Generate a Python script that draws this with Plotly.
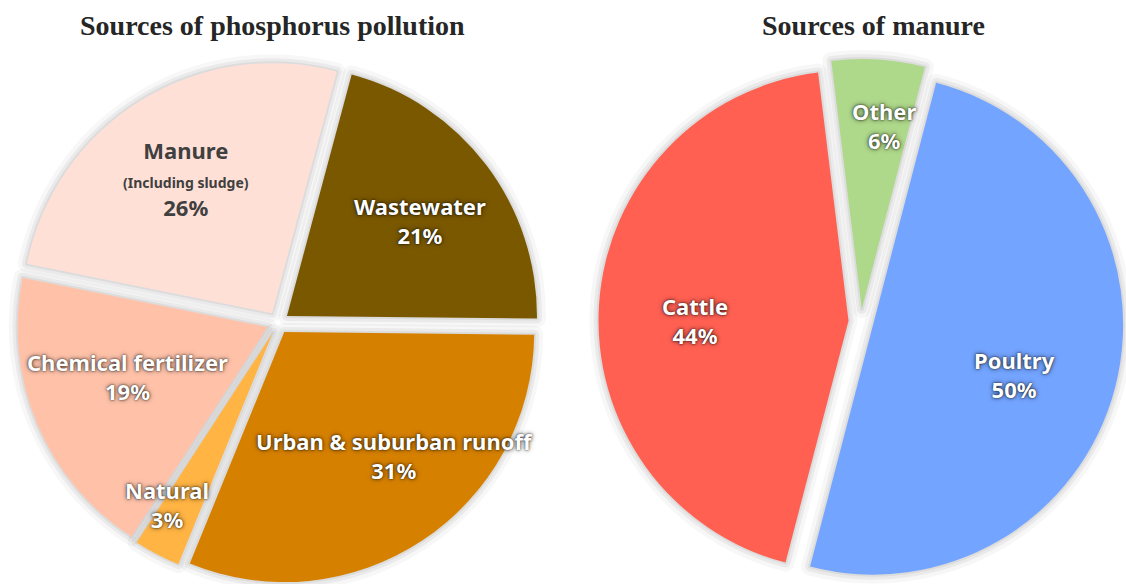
import math
import plotly.graph_objects as go

W, H = 1126, 584

# ---------------- data ----------------
p_title = "Sources of phosphorus pollution"
p_labels = ["Wastewater", "Urban & suburban runoff", "Natural", "Chemical fertilizer", "Manure"]
p_notes = ["", "", "", "", "(Including sludge)"]
p_values = [21, 31, 3, 19, 26]

m_title = "Sources of manure"
m_labels = ["Poultry", "Cattle", "Other"]
m_values = [50, 44, 6]

# ---------------- style ----------------
p_colors = ["#7A5800", "#D68000", "#FFB443", "#FFC2A9", "#FFE0D7"]
m_colors = ["#73A4FF", "#FF6052", "#AED88A"]
p_text_colors = ["white", "white", "white", "white", "#404040"]
m_text_colors = ["white", "white", "white"]

p_pull, m_pull = 0.045, 0.05
p_rotation, m_rotation = 15, 14.6
p_domain = dict(x=[13 / W, 543 / W], y=[0, 0.8947])
m_domain = dict(x=[596 / W, 1.0], y=[0, 0.899])

# label placement: radial factor (of radius) and angle tweak (deg)
p_lab_r = [0.655, 0.66, 0.805, 0.596, 0.64]
p_lab_da = [1.5, -8, 4, 3.3, -0.7]
m_lab_r = [0.60, 0.616, 0.74]
m_lab_da = [5, -3.8, 3]

LABEL_FONT = "Noto Sans"
TITLE_FONT = "Liberation Serif"
SHADOW = "0px 0px 2px rgba(0,0,0,0.8), 0px 0px 5px rgba(0,0,0,0.6)"


def geometry(domain, pull):
    x0, x1 = domain["x"]
    y0, y1 = domain["y"]
    rx = W * (x1 - x0) / 2
    ry = H * (y1 - y0) / 2
    cx = W * (x0 + x1) / 2
    cy = H * (1 - (y0 + y1) / 2)
    r = min(rx, ry) / (1 + pull)
    return cx, cy, r


def pie_traces(values, colors, pull, rotation, domain):
    n = len(values)
    traces = []
    for w, a in [(18, 0.03), (10, 0.05), (4, 0.06)]:
        traces.append(go.Pie(
            values=values, sort=False, direction="clockwise", rotation=rotation,
            pull=pull, domain=domain, textinfo="none", hoverinfo="skip",
            showlegend=False,
            marker=dict(colors=["rgba(0,0,0,0)"] * n,
                        line=dict(color=f"rgba(0,0,0,{a})", width=w)),
        ))
    traces.append(go.Pie(
        values=values, sort=False, direction="clockwise", rotation=rotation,
        pull=pull, domain=domain, textinfo="none", showlegend=False,
        marker=dict(colors=colors, line=dict(width=0)),
    ))
    return traces


def label_annotations(labels, notes, values, text_colors, lab_r, lab_da,
                      pull, rotation, domain):
    cx, cy, r = geometry(domain, pull)
    total = float(sum(values))
    ann = []
    start = rotation
    for i, v in enumerate(values):
        span = 360.0 * v / total
        mid = math.radians(start + span / 2)
        la = math.radians(start + span / 2 + lab_da[i])
        px = cx + pull * r * math.sin(mid) + lab_r[i] * r * math.sin(la)
        py = cy - pull * r * math.cos(mid) - lab_r[i] * r * math.cos(la)
        pct = f"{round(100 * v / total)}%"
        if notes[i]:
            text = f"{labels[i]}<br><span style='font-size:14px'>{notes[i]}</span><br>{pct}"
        else:
            text = f"{labels[i]}<br>{pct}"
        font = dict(family=LABEL_FONT, size=22, color=text_colors[i], weight=700)
        if text_colors[i] == "white":
            font["shadow"] = SHADOW
        ann.append(dict(
            x=px / W, y=1 - py / H, xref="paper", yref="paper",
            text=text, showarrow=False, xanchor="center", yanchor="middle",
            align="center", font=font,
        ))
        start += span
    return ann


fig = go.Figure()
for t in pie_traces(p_values, p_colors, p_pull, p_rotation, p_domain):
    fig.add_trace(t)
for t in pie_traces(m_values, m_colors, m_pull, m_rotation, m_domain):
    fig.add_trace(t)

annotations = []
annotations += label_annotations(p_labels, p_notes, p_values, p_text_colors,
                                 p_lab_r, p_lab_da, p_pull, p_rotation, p_domain)
annotations += label_annotations(m_labels, [""] * len(m_labels), m_values, m_text_colors,
                                 m_lab_r, m_lab_da, m_pull, m_rotation, m_domain)
annotations.append(dict(x=272 / W, y=1 - 25 / H, xref="paper", yref="paper",
                        text=p_title, showarrow=False, xanchor="center", yanchor="middle",
                        font=dict(family=TITLE_FONT, size=28, color="#262626", weight=700)))
annotations.append(dict(x=873 / W, y=1 - 25 / H, xref="paper", yref="paper",
                        text=m_title, showarrow=False, xanchor="center", yanchor="middle",
                        font=dict(family=TITLE_FONT, size=28, color="#262626", weight=700)))

fig.update_layout(
    width=W, height=H, margin=dict(l=0, r=0, t=0, b=0),
    paper_bgcolor="white", plot_bgcolor="white",
    annotations=annotations,
)

fig.write_html("out.html")
